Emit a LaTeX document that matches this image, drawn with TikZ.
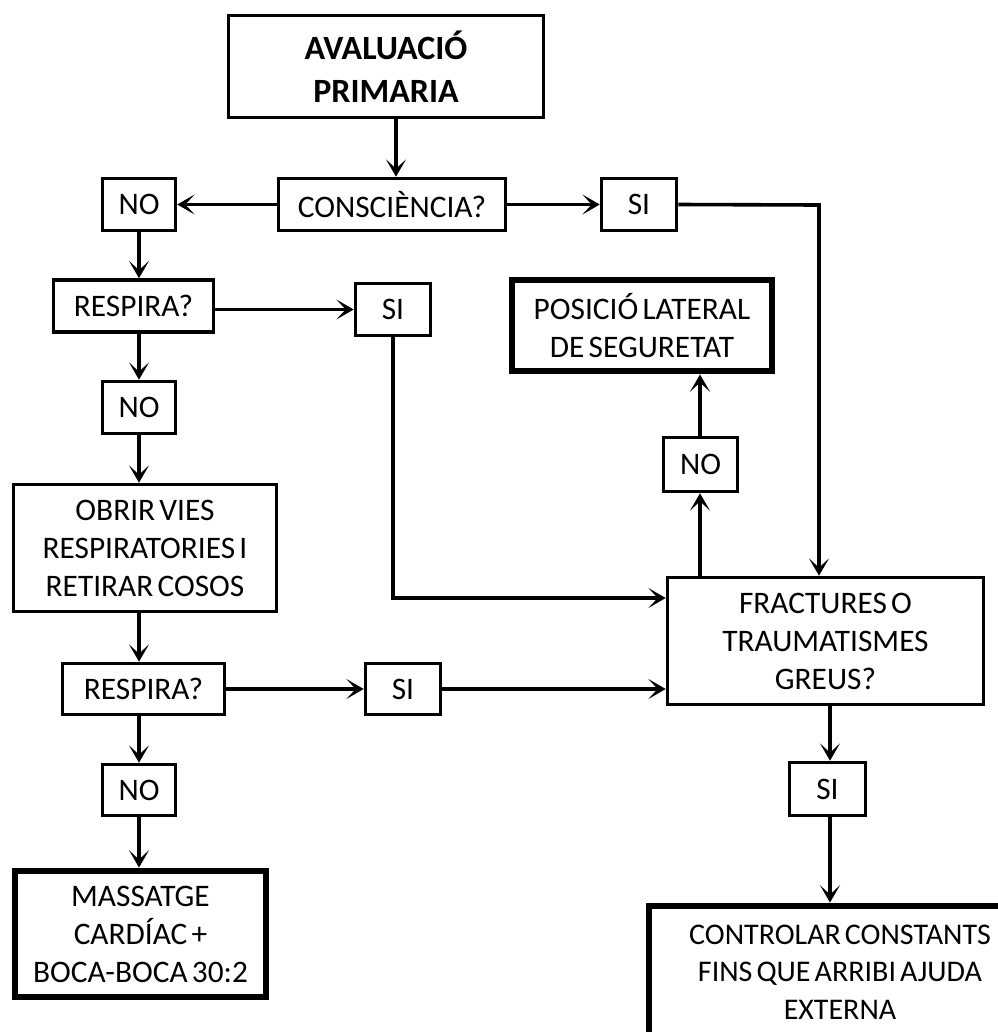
\documentclass[tikz,border=0pt]{standalone}
\usepackage{fontspec}
\setmainfont{Carlito}[WordSpace=0.6]
\usetikzlibrary{arrows.meta,calc}
\begin{document}
\begin{tikzpicture}[x=0.75pt,y=-0.75pt,
  box/.style={draw, line width=2.7pt, inner sep=0pt, align=center, font=\fontsize{23.5}{28.5}\selectfont},
  endbox/.style={box, line width=5.2pt},
  arr/.style={-{Stealth[length=13pt,width=15pt,inset=7pt]}, line width=2.7pt}]
\fill[white] (0,0) rectangle (997,1032);
\useasboundingbox (0,0) rectangle (997,1032);

% nodes
\node[box, font=\bfseries\fontsize{25.5}{32}\selectfont, minimum width=315*.75pt, minimum height=102*.75pt] (aval) at (386,66.5) {AVALUACIÓ\\PRIMARIA};
\node[box, minimum width=227*.75pt, minimum height=52*.75pt] (consc) at (392,204.5) {CONSCIÈNCIA?};
\node[box, minimum width=73*.75pt, minimum height=52*.75pt] (no1) at (139,204.5) {NO};
\node[box, minimum width=75*.75pt, minimum height=52*.75pt] (si1) at (639,204.5) {SI};
\node[box, minimum width=160*.75pt, minimum height=52*.75pt] (resp1) at (133.5,306) {RESPIRA?};
\node[box, minimum width=75*.75pt, minimum height=52*.75pt] (si2) at (393,309.5) {SI};
\node[box, minimum width=73*.75pt, minimum height=52*.75pt] (no2) at (139,407.5) {NO};
\node[box, minimum width=263*.75pt, minimum height=127*.75pt] (obrir) at (145,548) {OBRIR VIES\\RESPIRATORIES I\\RETIRAR COSOS};
\node[box, minimum width=162*.75pt, minimum height=51*.75pt] (resp2) at (143.5,689) {RESPIRA?};
\node[box, minimum width=75*.75pt, minimum height=51*.75pt] (si3) at (403,689) {SI};
\node[box, minimum width=73*.75pt, minimum height=51*.75pt] (no3) at (139,790) {NO};
\node[endbox, minimum width=251*.75pt, minimum height=126*.75pt] (mass) at (140.5,934) {MASSATGE\\CARDÍAC +\\BOCA-BOCA 30:2};
\node[endbox, minimum width=260*.75pt, minimum height=91*.75pt] (posicio) at (642,325.5) {POSICIÓ LATERAL\\DE SEGURETAT};
\node[box, minimum width=74*.75pt, minimum height=54*.75pt] (no4) at (700.5,464.5) {NO};
\node[box, minimum width=316*.75pt, minimum height=127*.75pt] (fract) at (825.5,641) {FRACTURES O\\TRAUMATISMES\\GREUS?};
\node[box, minimum width=76*.75pt, minimum height=53*.75pt] (si4) at (827.5,789) {SI};
\node[endbox, font=\fontsize{22.5}{28}\selectfont, minimum width=382*.75pt, minimum height=132*.75pt] (ctrl) at (840,972) {CONTROLAR CONSTANTS\\FINS QUE ARRIBI AJUDA\\EXTERNA};

\coordinate (c1) at (819,205);
\coordinate (c2) at (396,598);
\coordinate (c3) at (700,576);
\coordinate (c4) at (830,706);

% connectors
\draw[arr] ([xshift=7.5pt]aval.south) -- ([xshift=7.5pt]aval.south |- consc.north);
\draw[arr] (consc.west) -- (no1.east);
\draw[arr] (consc.east) -- (si1.west);
\draw[arr] (si1.east) -- (c1) -- (c1 |- fract.north);
\draw[arr] (no1.south) -- (no1.south |- resp1.north);
\draw[arr] (resp1.east |- si2.west) -- (si2.west);
\draw[arr] (no2.north |- resp1.south) -- (no2.north);
\draw[arr] (si2.south) -- (si2.south |- c2) -- (c2 -| fract.west);
\draw[arr] (no2.south) -- (no2.south |- obrir.north);
\draw[arr] (no2.south |- obrir.south) -- (no2.south |- resp2.north);
\draw[arr] (resp2.east) -- (si3.west);
\draw[arr] (si3.east) -- (si3.east -| fract.west);
\draw[arr] (no3.north |- resp2.south) -- (no3.north);
\draw[arr] (no3.south) -- (no3.south |- mass.north);
\draw[arr] (c3 |- fract.north) -- (c3 |- no4.south);
\draw[arr] (c3 |- no4.north) -- (c3 |- posicio.south);
\draw[arr] (c4 |- fract.south) -- (c4 |- si4.north);
\draw[arr] (c4 |- si4.south) -- (c4 |- ctrl.north);
\end{tikzpicture}
\end{document}
